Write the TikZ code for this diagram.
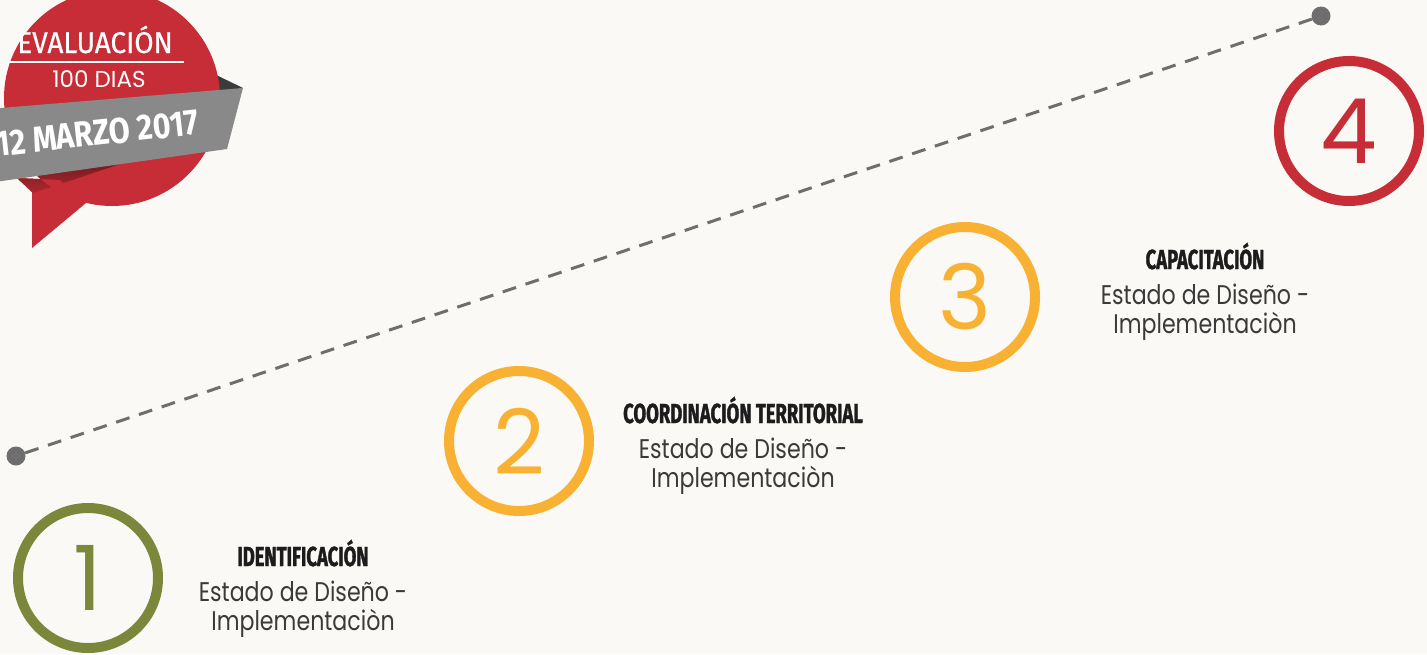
\documentclass[tikz,border=0pt]{standalone}
\usepackage{fontspec}
\setmainfont{Poppins}
\newfontfamily\headfont{Fira Sans}[FakeStretch=0.67, FakeBold=1.2]
\newfontfamily\badgefont{Fira Sans}[FakeStretch=0.85]
\newfontfamily\evalfont{Fira Sans}[FakeStretch=0.93, FakeBold=0.6]
\newfontfamily\bodyfont{Poppins}[FakeStretch=0.82]
\definecolor{bg}{HTML}{FAF9F5}
\definecolor{olive}{HTML}{7B873B}
\definecolor{amber}{HTML}{F8B133}
\definecolor{crimson}{HTML}{C62D36}
\definecolor{dotgray}{HTML}{6E6E6E}
\definecolor{bannergray}{HTML}{898989}
\definecolor{folddark}{HTML}{3B3B3B}
\definecolor{shadowred}{HTML}{6E1A1E}
\definecolor{headink}{HTML}{1C1C1C}
\definecolor{bodyink}{HTML}{3A3A3A}
\tikzset{
  dotnode/.style={circle, fill=dotgray, minimum size=19pt, inner sep=0pt},
  conn/.style={draw=dotgray, line width=3pt, dash pattern=on 14pt off 10pt},
  ring/.style={circle, draw=#1, text=#1, line width=10pt, minimum size=140pt, inner sep=0pt,
    font=\fontsize{90}{90}\selectfont},
  headtext/.style={anchor=base, text=headink, inner sep=0pt, font=\headfont\bfseries\fontsize{27.5}{28}\selectfont},
  bodytext/.style={anchor=base, text=bodyink, inner sep=0pt, align=center, font=\bodyfont\fontsize{27}{29}\selectfont},
}
\begin{document}
\begin{tikzpicture}[x=1pt,y=-1pt]
\useasboundingbox (0,0) rectangle (1427,654);
\clip (0,0) rectangle (1427,654);
\fill[bg] (0,0) rectangle (1427,654);

% dashed connector
\node[dotnode] (d1) at (16,456) {};
\node[dotnode] (d2) at (1321,16) {};
\draw[conn] (d1) -- (d2);

% rings
\node[ring=olive] (n1) at (88,578) {1};
\node[ring=amber] (n2) at (519,441) {2};
\node[ring=amber] (n3) at (965,297) {3};
\node[ring=crimson] (n4) at (1349,131) {4};

% labels (body node anchored at the baseline of its last line)
\node[headtext] (h1) at (303,566) {IDENTIFICACIÓN};
\node[bodytext] (b1) at (303,630) {Estado de Diseño -\\Implementaciòn};
\node[headtext] (h2) at (743,423) {COORDINACIÓN TERRITORIAL};
\node[bodytext] (b2) at (743,487) {Estado de Diseño -\\Implementaciòn};
\node[headtext] (h3) at (1205,269) {CAPACITACIÓN};
\node[bodytext] (b3) at (1205,333) {Estado de Diseño -\\Implementaciòn};

% badge
\fill[folddark] (205,95) -- (210,72) -- (243,88) -- cycle;
\fill[crimson] (112,98) circle (108);
\fill[crimson] (17,178) -- (32,192) -- (32,248) -- (86,203) -- (60,180) -- cycle;
\begin{scope}
  \clip (112,98) circle (108) (17,178) -- (32,192) -- (32,248) -- (86,203) -- (60,180) -- cycle;
  \shade[top color=shadowred, bottom color=crimson] (0,176) -- (120,161) -- (120,164) -- (0,204) -- cycle;
\end{scope}
\fill[bannergray] (-5,108.5) -- (243,88) -- (227,149) -- (-5,182) -- cycle;
\node[rotate=6.3, text=white, inner sep=0pt, font=\badgefont\bfseries\fontsize{36}{36}\selectfont] (date) at (97,133) {12 MARZO 2017};
\node[anchor=base, text=white, inner sep=0pt, font=\evalfont\fontsize{30}{30}\selectfont] (eval) at (95,53) {EVALUACIÓN};
\draw[white, line width=2pt] (7,62) -- (184,62);
\node[anchor=base, text=white, inner sep=0pt, font=\fontsize{23}{23}\selectfont] (dias) at (99,87) {100 DIAS};
\end{tikzpicture}
\end{document}
